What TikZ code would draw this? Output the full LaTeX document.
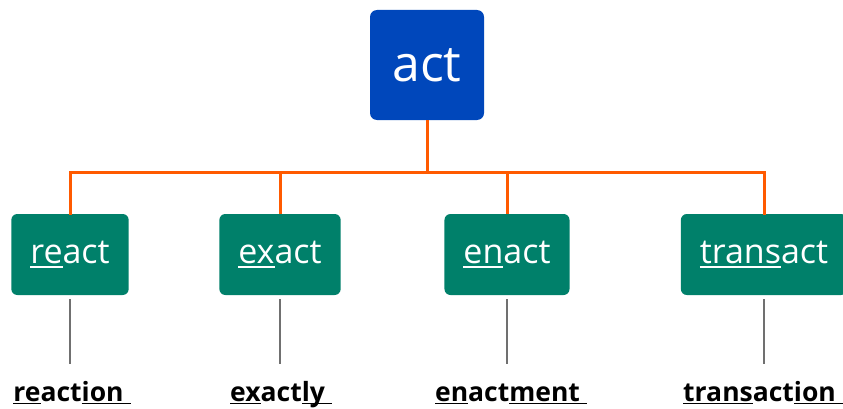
\documentclass[tikz,border=0pt]{standalone}
\usepackage{fontspec}
\setmainfont{Open Sans}
\usetikzlibrary{positioning}
\definecolor{actblue}{RGB}{0,71,187}
\definecolor{kidgreen}{RGB}{0,128,106}
\definecolor{treeorange}{RGB}{255,90,0}
\definecolor{stemgray}{RGB}{112,112,112}
% underline with a fixed depth
\newcommand{\ulpart}[1]{\setbox0=\hbox{#1}\rlap{\rule[-0.13em]{\wd0}{0.06em}}\box0}

\begin{document}
\begin{tikzpicture}[
  x=1pt, y=1pt,
  root/.style={fill=actblue, rounded corners=7pt, text=white, font=\fontsize{50}{50}\selectfont,
    minimum width=114pt, minimum height=110pt, inner sep=0pt},
  kid/.style={fill=kidgreen, rounded corners=6pt, text=white, font=\fontsize{34}{34}\selectfont,
    minimum height=81pt, inner xsep=19pt, inner ysep=0pt},
  word/.style={font=\bfseries\fontsize{26.5}{26.5}\selectfont, anchor=base, inner sep=0pt},
  branch/.style={draw=treeorange, line width=3pt},
  stem/.style={draw=stemgray, line width=1.3pt}
]
\useasboundingbox (0,0) rectangle (843,408);

% root
\node[root] (act) at (427,343) {act};

% children
\node[kid] (react) at (70,153.5) {\ulpart{re}act};
\node[kid] (exact) at (280,153.5) {\ulpart{ex}act};
\node[kid] (enact) at (507,153.5) {\ulpart{en}act};
\node[kid] (transact) at (764,153.5) {\ulpart{trans}act};

% orange tree
\coordinate (bar) at (427,236);
\draw[branch] (act.south) -- (bar);
\draw[branch, line cap=rect] (react.north) |- (bar) -| (transact.north);
\draw[branch] (exact.north) -- (exact.north |- bar);
\draw[branch] (enact.north) -- (enact.north |- bar);

% derived words
\node[word] (reaction) at (72,7) {\ulpart{re}act\ulpart{ion\ }};
\node[word] (exactly) at (281,7) {\ulpart{ex}act\ulpart{ly\ }};
\node[word] (enactment) at (511,7) {\ulpart{en}act\ulpart{ment\ }};
\node[word] (transaction) at (763,7) {\ulpart{trans}act\ulpart{ion\ }};

% gray stems
\foreach \a/\b in {react/reaction, exact/exactly, enact/enactment, transact/transaction}
  \draw[stem] ([yshift=-4pt]\a.south) -- (\a.south |- 0,44);

\end{tikzpicture}
\end{document}
